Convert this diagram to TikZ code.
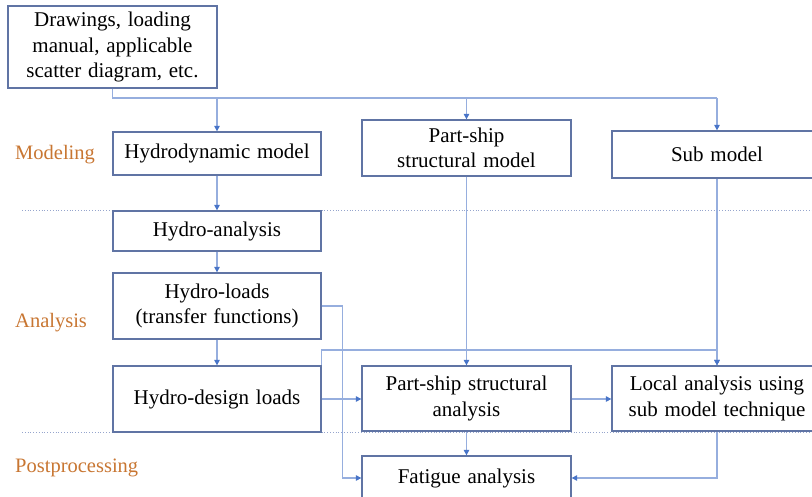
\documentclass[tikz,border=0pt]{standalone}
\usepackage{fontspec}
\setmainfont{Liberation Serif}
\usetikzlibrary{arrows.meta}
\definecolor{boxline}{RGB}{96,116,164}
\definecolor{wire}{RGB}{150,174,222}
\definecolor{tipc}{RGB}{72,116,200}
\definecolor{phase}{RGB}{200,118,50}
\definecolor{sep}{RGB}{150,165,205}
% box text: slightly wider word spaces
\newcommand\blkfont{\fontsize{21}{25.5}\selectfont\spaceskip=0.32em plus 0.1em\relax}
\tikzset{
  blk/.style={draw=boxline, line width=1.3pt, fill=white, inner sep=0pt, align=center,
    font=\blkfont},
  wirel/.style={draw=wire, line width=1.1pt, -{Triangle[length=5.5pt,width=5.5pt,color=tipc]}},
  plain/.style={draw=wire, line width=1.1pt},
  phaselbl/.style={text=phase, anchor=west, inner sep=0pt, font=\fontsize{20.5}{24}\selectfont},
  sepline/.style={draw=sep, line width=0.8pt, dotted}
}
\begin{document}
\begin{tikzpicture}[x=1pt, y=-1pt]
\useasboundingbox (0,0) rectangle (812,496);
\clip (0,0) rectangle (812,496);

% phase separators
\draw[sepline] (22,210) -- (812,210);
\draw[sepline] (22,432) -- (812,432);

% phase labels
\node[phaselbl] (lmod) at (15,155) {Modeling};
\node[phaselbl] (lana) at (15,323) {Analysis};
\node[phaselbl] (lpost) at (15,468) {Postprocessing};

% boxes
\node[blk, minimum width=209pt, minimum height=82pt] (src) at (112.5,47)
  {Drawings, loading\\manual, applicable\\scatter diagram, etc.};
\node[blk, minimum width=208pt, minimum height=43pt] (hmod) at (217,153.5) {Hydrodynamic model};
\node[blk, minimum width=209pt, minimum height=56pt] (pmod) at (466.5,148) {Part-ship\\structural model};
\node[blk, minimum width=210pt, minimum height=47pt] (smod) at (717,154.5) {Sub model};
\node[blk, minimum width=208pt, minimum height=40pt] (hana) at (217,231) {Hydro-analysis};
\node[blk, minimum width=208pt, minimum height=66pt] (hload) at (217,306) {Hydro-loads\\(transfer functions)};
\node[blk, minimum width=208pt, minimum height=66pt] (hdes) at (217,399) {Hydro-design loads};
\node[blk, minimum width=209pt, minimum height=65pt] (pana) at (466.5,398.5) {Part-ship structural\\analysis};
\node[blk, minimum width=210pt, minimum height=65pt] (locan) at (717,398.5) {Local analysis using\\sub model technique};
\node[blk, minimum width=209pt, minimum height=44pt] (fat) at (466.5,478) {Fatigue analysis};

% distribution bus from the input box
\coordinate (bus) at (0,98);
\coordinate (loop) at (0,350);
\draw[plain] (src.south) -- (src.south |- bus) -- (smod.north |- bus);
\draw[wirel] (hmod.north |- bus) -- (hmod.north);
\draw[wirel] (pmod.north |- bus) -- (pmod.north);
\draw[wirel] (smod.north |- bus) -- (smod.north);

% hydro chain
\draw[wirel] (hmod.south) -- (hana.north);
\draw[wirel] (hana.south) -- (hload.north);
\draw[wirel] (hload.south) -- (hdes.north);
\draw[wirel] (hload.east) -- ++(21,0) |- (fat.west);
\draw[wirel] (hdes.east) -- (hdes.east -| pana.west);
\draw[wirel] (hdes.north east) -- (hdes.north east |- loop) -| (locan.north);

% structural chain
\draw[wirel] (pmod.south) -- (pana.north);
\draw[wirel] (smod.south) -- (locan.north);
\draw[wirel] (pana.east |- hdes.east) -- (locan.west |- hdes.east);
\draw[wirel] (pana.south) -- (fat.north);
\draw[wirel] (locan.south) |- (fat.east);
\end{tikzpicture}
\end{document}
